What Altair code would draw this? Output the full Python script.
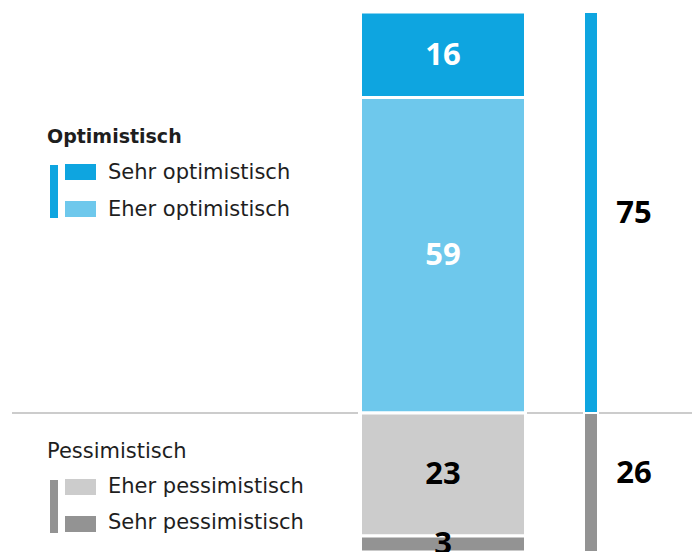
import altair as alt
import pandas as pd

# ---- data ----
categories = ["Sehr optimistisch", "Eher optimistisch", "Eher pessimistisch", "Sehr pessimistisch"]
values = [16, 59, 23, 3]
colors = ["#0EA5E0", "#6EC8EC", "#CCCCCC", "#939393"]
label_colors = ["white", "white", "black", "black"]
groups = ["Optimistisch", "Pessimistisch"]
group_members = [[0, 1], [2, 3]]
group_totals = [75, 26]
group_colors = ["#0EA5E0", "#939393"]

# ---- derived tables ----
starts, ends = [], []
acc = 0
for v in values:
    starts.append(acc)
    acc += v
    ends.append(acc)
seg_df = pd.DataFrame({
    "category": categories,
    "value": values,
    "start": starts,
    "end": ends,
    "mid": [(s + e) / 2 for s, e in zip(starts, ends)],
    "fill": colors,
    "label_color": label_colors,
})

g_starts, g_ends = [], []
acc = 0
for t in group_totals:
    g_starts.append(acc)
    acc += t
    g_ends.append(acc)
grp_df = pd.DataFrame({
    "group": groups,
    "total": group_totals,
    "start": g_starts,
    "end": g_ends,
    "mid": [(s + e) / 2 for s, e in zip(g_starts, g_ends)],
    "fill": group_colors,
})

W, H = 684, 540
yscale = alt.Scale(domain=[0, sum(values)], reverse=True, nice=False, zero=False)
NUM_FONT = "Open Sans"
NUM_SIZE = 31
TXT_FONT = "DejaVu Sans"
TXT_COLOR = "#1e1e1e"

layers = []

# horizontal separator line (in segments around bars)
for xa, xb in [(4, 350), (519, 575), (589, W)]:
    layers.append(
        alt.Chart(pd.DataFrame({"v": [group_totals[0]]}))
        .mark_rule(color="#CCCCCC", strokeWidth=2)
        .encode(x=alt.value(xa), x2=alt.value(xb), y=alt.Y("v:Q", scale=yscale, axis=None))
    )

# main stacked bar
layers.append(
    alt.Chart(seg_df)
    .mark_rect(stroke="white", strokeWidth=3)
    .encode(
        x=alt.value(352.5), x2=alt.value(517.5),
        y=alt.Y("start:Q", scale=yscale, axis=None), y2="end:Q",
        color=alt.Color("fill:N", scale=None),
    )
)
layers.append(
    alt.Chart(seg_df)
    .mark_text(font=NUM_FONT, fontSize=NUM_SIZE, fontWeight="bold", align="center", baseline="middle", dy=1)
    .encode(
        x=alt.value(435),
        y=alt.Y("mid:Q", scale=yscale, axis=None),
        text="value:Q",
        color=alt.Color("label_color:N", scale=None),
    )
)

# right group bars
layers.append(
    alt.Chart(grp_df)
    .mark_rect(stroke="white", strokeWidth=2)
    .encode(
        x=alt.value(576), x2=alt.value(590),
        y=alt.Y("start:Q", scale=yscale, axis=None), y2="end:Q",
        color=alt.Color("fill:N", scale=None),
    )
)
for gi, dy in [(0, 1.5), (1, -8)]:
    layers.append(
        alt.Chart(grp_df)
        .transform_filter(alt.datum.group == groups[gi])
        .mark_text(font=NUM_FONT, fontSize=NUM_SIZE, fontWeight="bold", align="center", baseline="middle",
                   color="black", dy=dy)
        .encode(x=alt.value(626), y=alt.Y("mid:Q", scale=yscale, axis=None), text="total:Q")
    )

# manual legend
legend_layout = [
    dict(title_y=131, title_weight="bold", title_size=19, bracket=(153, 206), items_y=[166.5, 203.5], sw_y=[152, 189]),
    dict(title_y=446, title_weight="normal", title_size=21, bracket=(468, 521), items_y=[481, 517], sw_y=[467, 504]),
]
for gi, lay in enumerate(legend_layout):
    layers.append(
        alt.Chart(pd.DataFrame({"t": [groups[gi]]}))
        .mark_text(font=TXT_FONT, fontSize=lay["title_size"], fontWeight=lay["title_weight"], align="left",
                   baseline="alphabetic", color=TXT_COLOR)
        .encode(x=alt.value(39), y=alt.value(lay["title_y"]), text="t:N")
    )
    layers.append(
        alt.Chart(pd.DataFrame({"t": [groups[gi]]}))
        .mark_rect(color=group_colors[gi])
        .encode(x=alt.value(42), x2=alt.value(50), y=alt.value(lay["bracket"][0]), y2=alt.value(lay["bracket"][1]))
    )
    for k, ci in enumerate(group_members[gi]):
        layers.append(
            alt.Chart(pd.DataFrame({"t": [categories[ci]]}))
            .mark_rect(color=colors[ci])
            .encode(x=alt.value(57), x2=alt.value(88), y=alt.value(lay["sw_y"][k]), y2=alt.value(lay["sw_y"][k] + 16))
        )
        layers.append(
            alt.Chart(pd.DataFrame({"t": [categories[ci]]}))
            .mark_text(font=TXT_FONT, fontSize=21, align="left", baseline="alphabetic", color=TXT_COLOR)
            .encode(x=alt.value(100), y=alt.value(lay["items_y"][k]), text="t:N")
        )

chart = (
    alt.layer(*layers)
    .properties(width=W, height=H, padding={"left": 0, "top": 4, "right": 0, "bottom": 0}, autosize="none")
    .configure_view(stroke=None)
)

chart.save("out.html", embed_options={"renderer": "svg", "actions": False})
